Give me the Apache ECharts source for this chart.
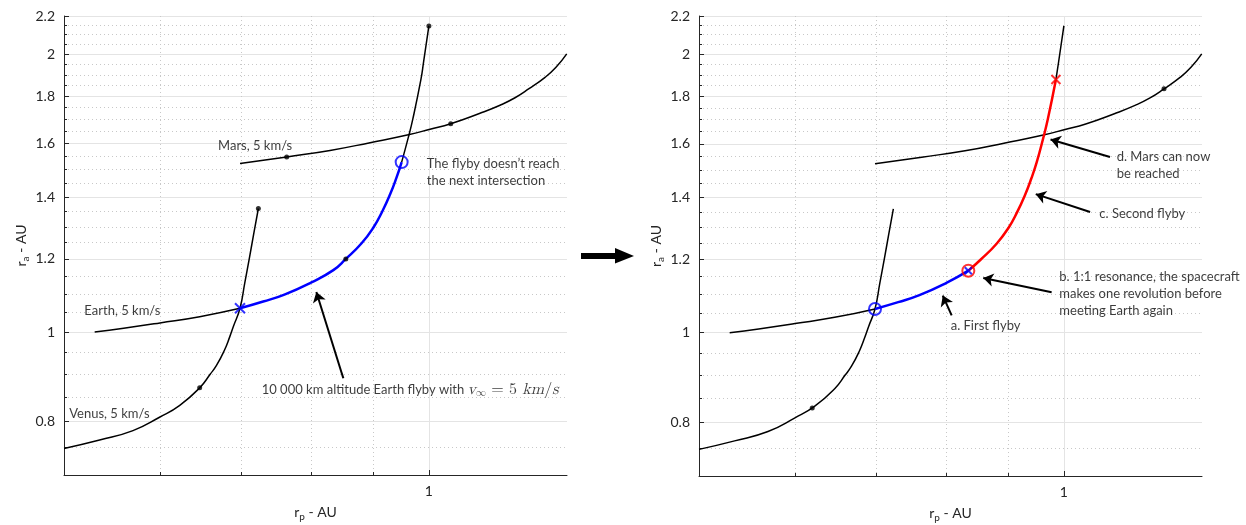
<!DOCTYPE html>
<html><head><meta charset="utf-8">
<script src="https://cdn.jsdelivr.net/npm/echarts@6/dist/echarts.min.js"></script>
<style>html,body{margin:0;padding:0;background:#fff}#c{width:1246px;height:525px}</style>
</head><body><div id="c"></div>
<script>
// ---------- axis ticks ----------
const xRange = [0.5, 1.3];
const yRange = [0.7, 2.2];
const xMajorTicks = [1];
const xMinorTicks = [0.6, 0.7, 0.8, 0.9];
const yMajorTicks = [0.8, 1, 1.2, 1.4, 1.6, 1.8, 2, 2.2];
const yMinorTicks = [0.75, 0.85, 0.9, 0.95, 1.05, 1.1, 1.15, 1.25, 1.3, 1.35, 1.45, 1.5, 1.55,
                     1.65, 1.7, 1.75, 1.85, 1.9, 1.95, 2.05, 2.1, 2.15];

// ---------- curves (r_p, r_a) ----------
const venusCurve = [[0.500,0.748],[0.535,0.764],[0.570,0.782],[0.600,0.809],[0.623,0.833],
  [0.647,0.870],[0.660,0.900],[0.668,0.920],[0.678,0.955],[0.685,0.988],[0.690,1.015],
  [0.6985,1.061],[0.705,1.132],[0.711,1.202],[0.717,1.278],[0.7233,1.361]];
const marsCurve = [[0.6985,1.5226],[0.7633,1.548],[0.8288,1.573],[0.8943,1.604],[0.9617,1.636],
  [1.0022,1.6586],[1.0424,1.6815],[1.102,1.726],[1.1447,1.761],[1.1778,1.794],[1.2095,1.835],
  [1.2469,1.888],[1.2731,1.936],[1.2993,2.002]];
const earthBefore = [[0.530,1.000],[0.560,1.0095],[0.600,1.023],[0.647,1.039],[0.6985,1.061]];
// left panel: single flyby
const earthFlybyLeft = [[0.6985,1.061],[0.730,1.079],[0.760,1.098],[0.800,1.132],[0.834,1.167],
  [0.854,1.200],[0.880,1.248],[0.900,1.298],[0.915,1.350],[0.929,1.410],[0.940,1.468],[0.9496,1.528]];
const earthAfterLeft = [[0.9496,1.528],[0.9617,1.625],[0.970,1.702],[0.985,1.878],[0.990,1.962],[1.000,2.146]];
// right panel: two flybys
const earthFirstFlyby = [[0.6985,1.061],[0.730,1.079],[0.760,1.098],[0.800,1.132],[0.834,1.167]];
const earthSecondFlyby = [[0.834,1.167],[0.854,1.200],[0.880,1.248],[0.900,1.298],[0.915,1.350],
  [0.929,1.410],[0.940,1.468],[0.9496,1.528],[0.9617,1.625],[0.970,1.702],[0.985,1.878]];
const earthAfterRight = [[0.985,1.878],[0.990,1.962],[1.000,2.146]];

// ---------- dots and markers ----------
const dotsLeft = [[0.647,0.870],[0.7233,1.361],[0.854,1.200],[1.000,2.146],[0.7633,1.548],[1.0424,1.6815]];
const dotsRight = [[0.620,0.829],[1.2095,1.835]];
const crossLeft = [[0.6985,1.061]];
const circleLeft = [[0.9496,1.528]];
const blueCircleRight = [[0.6985,1.061]];
const redCircleRight = [[0.834,1.167]];
const blueCrossRight = [[0.834,1.167]];
const redCrossRight = [[0.985,1.878]];

// ---------- annotations ----------
const notesLeft = [
  ['Mars, 5 km/s', 0.670, 1.590],
  ['Earth, 5 km/s', 0.5197, 1.054],
  ['Venus, 5 km/s', 0.505, 0.8164],
  ['The flyby doesn\u2019t reach\nthe next intersection', 0.996, 1.488],
  ['{t|10 000 km altitude Earth flyby with }{mi|v}{sub|\u221e}{mu| = 5 }{mi|km}{mu|/}{mi|s}', 0.7279, 0.8668]
];
const arrowsLeft = [[[0.850,0.891],[0.8075,1.105]]];
const notesRight = [
  ['d. Mars can now\nbe reached', 1.1055, 1.517],
  ['c. Second flyby', 1.0696, 1.345],
  ['b. 1:1 resonance, the spacecraft\nmakes one revolution before\nmeeting Earth again', 0.9914, 1.101],
  ['a. First flyby', 0.8065, 1.018]
];
const arrowsRight = [
  [[1.0915,1.549],[0.975,1.618]],
  [[1.051,1.3506],[0.948,1.412]],
  [[0.977,1.106],[0.858,1.146]],
  [[0.808,1.044],[0.7945,1.097]]
];

const FONT = 'Lato, "Open Sans", sans-serif';
const AXC = '#262626';
const TXC = '#0a0a0a';
const fmt = v => String(+(+v).toFixed(2));
const nameRich = {
  r: {fontSize: 14, fontFamily: FONT, color: AXC},
  s: {fontSize: 10, fontFamily: FONT, color: AXC, padding: [10, 0, 0, 0]}
};

function majorX(gi) {
  return {type: 'log', gridIndex: gi, position: 'bottom', min: xRange[0], max: xRange[1],
    axisLine: {show: true, onZero: false, lineStyle: {color: AXC, width: 1}},
    axisTick: {show: true, inside: true, length: 5, customValues: xMajorTicks, lineStyle: {color: AXC}},
    axisLabel: {show: true, customValues: xMajorTicks, formatter: fmt, color: AXC, fontSize: 14, margin: 9, fontFamily: FONT},
    splitLine: {show: true, lineStyle: {color: '#e4e4e4', width: 1}},
    minorTick: {show: false}, minorSplitLine: {show: false},
    name: '{r|r}{s|p}{r| - AU}', nameLocation: 'middle', nameGap: 27,
    nameTextStyle: {rich: nameRich}};
}
function minorX(gi) {
  return {type: 'log', gridIndex: gi, position: 'bottom', min: xRange[0], max: xRange[1],
    axisLine: {show: false, onZero: false},
    axisTick: {show: true, inside: true, length: 3, customValues: xMinorTicks, lineStyle: {color: AXC}},
    axisLabel: {show: false},
    splitLine: {show: true, lineStyle: {color: '#c8c8c8', width: 1, type: [1, 3]}}};
}
function majorY(gi) {
  return {type: 'log', gridIndex: gi, position: 'left', min: yRange[0], max: yRange[1],
    axisLine: {show: true, onZero: false, lineStyle: {color: AXC, width: 1}},
    axisTick: {show: true, inside: true, length: 5, customValues: yMajorTicks, lineStyle: {color: AXC}},
    axisLabel: {show: true, customValues: yMajorTicks, formatter: fmt, color: AXC, fontSize: 14, margin: 9, fontFamily: FONT},
    splitLine: {show: true, lineStyle: {color: '#e4e4e4', width: 1}},
    minorTick: {show: false}, minorSplitLine: {show: false},
    name: '{r|r}{s|a}{r| - AU}', nameLocation: 'middle', nameGap: 33,
    nameTextStyle: {rich: nameRich}};
}
function minorY(gi) {
  return {type: 'log', gridIndex: gi, position: 'left', min: yRange[0], max: yRange[1],
    axisLine: {show: false, onZero: false},
    axisTick: {show: true, inside: true, length: 3, customValues: yMinorTicks, lineStyle: {color: AXC}},
    axisLabel: {show: false},
    splitLine: {show: true, lineStyle: {color: '#c8c8c8', width: 1, type: [1, 3]}}};
}

function curve(data, color, width, gi, z) {
  return {type: 'line', xAxisIndex: gi * 2, yAxisIndex: gi * 2, data: data, symbol: 'none', showSymbol: false,
    smooth: 0.5, silent: true, z: z || 3,
    lineStyle: {color: color, width: width}};
}
function dots(data, gi) {
  return {type: 'scatter', xAxisIndex: gi * 2, yAxisIndex: gi * 2, data: data, symbol: 'circle', symbolSize: 5,
    silent: true, z: 6, itemStyle: {color: '#000'}};
}
function ring(data, color, gi) {
  return {type: 'scatter', xAxisIndex: gi * 2, yAxisIndex: gi * 2, data: data, symbol: 'circle', symbolSize: 12,
    silent: true, z: 7, itemStyle: {color: 'rgba(0,0,0,0)', borderColor: color, borderWidth: 2}};
}
function cross(data, color, gi, size) {
  return {type: 'scatter', xAxisIndex: gi * 2, yAxisIndex: gi * 2, data: data, symbol: 'path://M0,0L10,10M10,0L0,10',
    symbolSize: size || 9, silent: true, z: 8, itemStyle: {color: 'rgba(0,0,0,0)', borderColor: color, borderWidth: 2}};
}
const SERIF = '"Latin Modern Math", "Liberation Serif", "DejaVu Serif", serif';
const mathRich = {
  t: {fontSize: 13, fontFamily: FONT, color: TXC},
  mi: {fontSize: 16, fontFamily: SERIF, fontStyle: 'italic', color: TXC},
  mu: {fontSize: 16, fontFamily: SERIF, color: TXC},
  sub: {fontSize: 10, fontFamily: SERIF, color: TXC, padding: [8, 0, 0, 0]}
};
function notes(list, arrows, gi) {
  return {type: 'scatter', xAxisIndex: gi * 2, yAxisIndex: gi * 2, symbolSize: 0, silent: true, z: 9,
    data: list.map(n => ({value: [n[1], n[2]], label: {formatter: n[0]}})),
    label: {show: true, position: 'right', distance: 0, color: TXC, fontSize: 13, fontFamily: FONT,
      lineHeight: 17, align: 'left', rich: mathRich},
    markLine: {silent: true, symbol: ['none', 'arrow'], symbolSize: 10, animation: false,
      lineStyle: {color: '#000', width: 2, type: 'solid'}, label: {show: false},
      data: arrows.map(a => [{coord: a[0]}, {coord: a[1]}])}};
}

const option = {
  animation: false,
  backgroundColor: '#fff',
  grid: [
    {left: 64, top: 16, width: 503, height: 459, containLabel: false, outerBoundsMode: 'none'},
    {left: 699, top: 16, width: 503, height: 460, containLabel: false, outerBoundsMode: 'none'}
  ],
  xAxis: [majorX(0), minorX(0), majorX(1), minorX(1)],
  yAxis: [majorY(0), minorY(0), majorY(1), minorY(1)],
  graphic: [
    {type: 'rect', shape: {x: 581, y: 253, width: 36, height: 6}, style: {fill: '#000'}},
    {type: 'polygon', shape: {points: [[615, 248], [634, 256], [615, 263.5]]}, style: {fill: '#000'}}
  ],
  series: [
    curve(venusCurve, '#000', 1.5, 0),
    curve(marsCurve, '#000', 1.5, 0),
    curve(earthBefore, '#000', 1.5, 0),
    curve(earthFlybyLeft, '#0000ff', 2.5, 0, 4),
    curve(earthAfterLeft, '#000', 1.5, 0),
    dots(dotsLeft, 0),
    cross(crossLeft, '#0000ff', 0, 10),
    ring(circleLeft, '#0000ff', 0),
    notes(notesLeft, arrowsLeft, 0),

    curve(venusCurve, '#000', 1.5, 1),
    curve(marsCurve, '#000', 1.5, 1),
    curve(earthBefore, '#000', 1.5, 1),
    curve(earthFirstFlyby, '#0000ff', 2.5, 1, 4),
    curve(earthSecondFlyby, '#ff0000', 2.5, 1, 4),
    curve(earthAfterRight, '#000', 1.5, 1),
    dots(dotsRight, 1),
    ring(blueCircleRight, '#0000ff', 1),
    ring(redCircleRight, '#ff0000', 1),
    cross(blueCrossRight, '#0000ff', 1, 7),
    cross(redCrossRight, '#ff0000', 1, 9),
    notes(notesRight, arrowsRight, 1)
  ]
};
const chart = echarts.init(document.getElementById('c'), null, {renderer: 'canvas'});
chart.setOption(option);
</script>
</body></html>
